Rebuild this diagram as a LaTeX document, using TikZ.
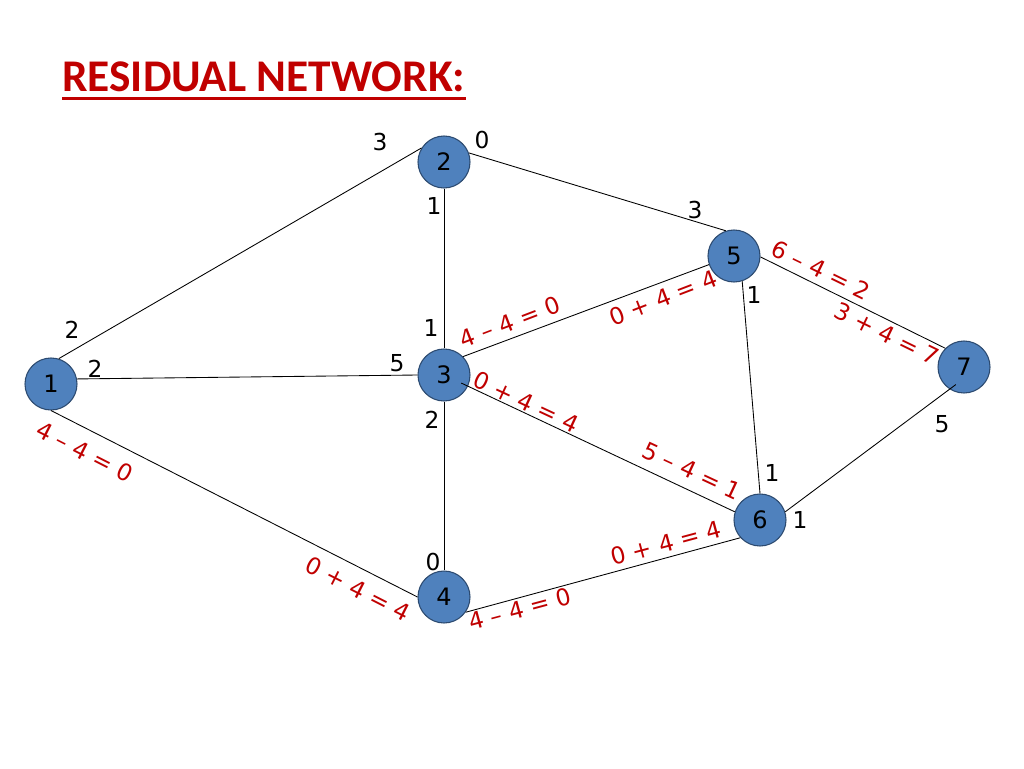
\documentclass[tikz,border=0pt]{standalone}
\usepackage{fontspec}
\setmainfont{DejaVu Sans}
\newfontfamily\titlefont{Carlito}
\usetikzlibrary{calc}
\definecolor{redlab}{HTML}{C00000}
\definecolor{nodefill}{HTML}{4F81BD}
\definecolor{nodeline}{HTML}{2C4A70}
\begin{document}
\begin{tikzpicture}[x=0.75pt,y=-0.75pt,
  vertex/.style={circle,fill=nodefill,draw=nodeline,line width=0.8pt,minimum size=39pt,inner sep=0pt,font=\fontsize{18}{21}\selectfont},
  edge/.style={line width=0.65pt,black},
  wlab/.style={font=\fontsize{17.5}{20}\selectfont,inner sep=0pt},
  rlab/.style={font=\fontsize{17.5}{20}\selectfont,text=redlab,inner sep=0pt}]
\fill[white] (0,0) rectangle (1024,768);
\useasboundingbox (0,0) rectangle (1024,768);

% title
\node[anchor=base west,inner sep=0pt,text=redlab,font=\titlefont\bfseries\fontsize{34}{40}\selectfont] (title) at (62,91) {RESIDUAL NETWORK:};
\draw[redlab,line width=2pt] ([yshift=-5.5pt]title.base west) -- ([yshift=-5.5pt]title.base east);

% vertices
\node[vertex] (n1) at (51,384) {1};
\node[vertex] (n2) at (444,162) {2};
\node[vertex] (n3) at (444,375) {3};
\node[vertex] (n4) at (444,597) {4};
\node[vertex] (n5) at (734,256) {5};
\node[vertex] (n6) at (760,520) {6};
\node[vertex] (n7) at (964,367) {7};

% edges
\draw[edge] (n1.73) -- (n2.148);
\draw[edge] (n1.11) -- (n3.180);
\draw[edge] (n1.-90) -- (n4.180);
\draw[edge] (n2.-90) -- (n3.90);
\draw[edge] (n2.20) -- (n5.108);
\draw[edge] (n3.-90) -- (n4.90);
\draw[edge] (n3.44) -- (n5.199);
\draw[edge] ($(n3.center)!0.72!(n3.-25)$) -- (n6.162);
\draw[edge] (n4.-35) -- (n6.222);
\draw[edge] (n5.-72) -- (n6.90);
\draw[edge] (n5.-2) -- (n7.135);
\draw[edge] (n6.18) -- ($(n7.center)!0.73!(n7.-115)$);

% black capacity labels
\node[wlab] (c1) at (380,142) {3};
\node[wlab] (c2) at (482,140) {0};
\node[wlab] (c3) at (434,206) {1};
\node[wlab] (c4) at (695,210) {3};
\node[wlab] (c5) at (754,295) {1};
\node[wlab] (c6) at (72,330) {2};
\node[wlab] (c7) at (95,369) {2};
\node[wlab] (c8) at (431,328) {1};
\node[wlab] (c9) at (397,363) {5};
\node[wlab] (c10) at (432,420) {2};
\node[wlab] (c11) at (942,424) {5};
\node[wlab] (c12) at (772,473) {1};
\node[wlab] (c13) at (800,520) {1};
\node[wlab] (c14) at (433,562) {0};

% red flow labels
\node[rlab,rotate=-27] (f1) at (85,452) {4 – 4 = 0};
\node[rlab,rotate=-27] (f2) at (358,589) {0 + 4 = 4};
\node[rlab,rotate=21] (f3) at (510,322) {4 – 4 = 0};
\node[rlab,rotate=21] (f4) at (663,298) {0 + 4 = 4};
\node[rlab,rotate=-25] (f5) at (526,402) {0 + 4 = 4};
\node[rlab,rotate=-25] (f6) at (692,471) {5 – 4 = 1};
\node[rlab,rotate=15] (f7) at (666,543) {0 + 4 = 4};
\node[rlab,rotate=15] (f8) at (520,609) {4 – 4 = 0};
\node[rlab,rotate=-26] (f9) at (821,270) {6 – 4 = 2};
\node[rlab,rotate=-26] (f10) at (887,334) {3 + 4 = 7};
\end{tikzpicture}
\end{document}
